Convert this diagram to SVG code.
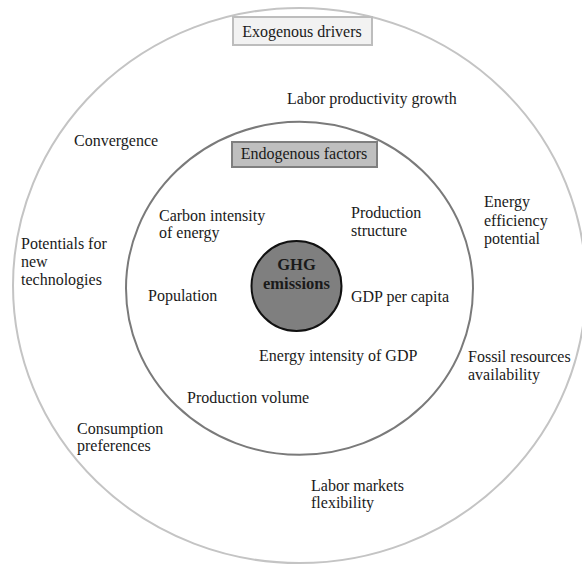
<svg xmlns="http://www.w3.org/2000/svg" width="582" height="565" viewBox="0 0 582 565">
<style>
text{font-family:"Liberation Serif","Times New Roman",serif;font-size:16px;fill:#1a1a1a}
.c{text-anchor:middle}
.b{font-weight:bold;font-size:16.5px}
.outer{fill:none;stroke:#c4c4c4;stroke-width:2}
.inner{fill:none;stroke:#7a7a7a;stroke-width:2}
</style>
<rect width="582" height="565" fill="#fff"/>
<g id="exogenous">
<ellipse class="outer" cx="299.5" cy="285.5" rx="286.5" ry="277.6"/>
<rect x="233" y="17" width="139" height="28" fill="#f2f2f2" stroke="#bdbdbd" stroke-width="2"/>
<text class="c" x="302" y="37">Exogenous drivers</text>
</g>
<g id="endogenous">
<ellipse class="inner" cx="299.5" cy="288.3" rx="173.5" ry="166.5"/>
<rect x="232" y="142" width="145" height="25" fill="#bfbfbf" stroke="#7f7f7f" stroke-width="2"/>
<text class="c" x="304" y="158.5">Endogenous factors</text>
</g>
<g id="ghg">
<circle cx="296.5" cy="286" r="45" fill="#7f7f7f" stroke="#111" stroke-width="2"/>
<text class="c b" x="296.5" y="270">GHG</text>
<text class="c b" x="296.5" y="288.5">emissions</text>
</g>
<g id="labor-productivity"><text x="287" y="104">Labor productivity growth</text></g>
<g id="convergence"><text x="74" y="146">Convergence</text></g>
<g id="potentials"><text x="21" y="249">Potentials for</text><text x="21" y="267">new</text><text x="21" y="285">technologies</text></g>
<g id="carbon"><text x="159" y="220.5">Carbon intensity</text><text x="159" y="237.5">of energy</text></g>
<g id="population"><text x="148" y="300.5">Population</text></g>
<g id="production-structure"><text x="351" y="218">Production</text><text x="351" y="236">structure</text></g>
<g id="gdp"><text x="351" y="302">GDP per capita</text></g>
<g id="energy-efficiency"><text x="484" y="206.5">Energy</text><text x="484" y="225.5">efficiency</text><text x="484" y="243.5">potential</text></g>
<g id="energy-intensity"><text x="259" y="360.5">Energy intensity of GDP</text></g>
<g id="production-volume"><text x="187" y="402.5">Production volume</text></g>
<g id="fossil"><text x="468" y="361.5">Fossil resources</text><text x="468" y="380">availability</text></g>
<g id="consumption"><text x="77" y="433.5">Consumption</text><text x="77" y="450.5">preferences</text></g>
<g id="labor-markets"><text x="311" y="490.5">Labor markets</text><text x="311" y="507.5">flexibility</text></g>
<g id="connectors"></g>
</svg>
